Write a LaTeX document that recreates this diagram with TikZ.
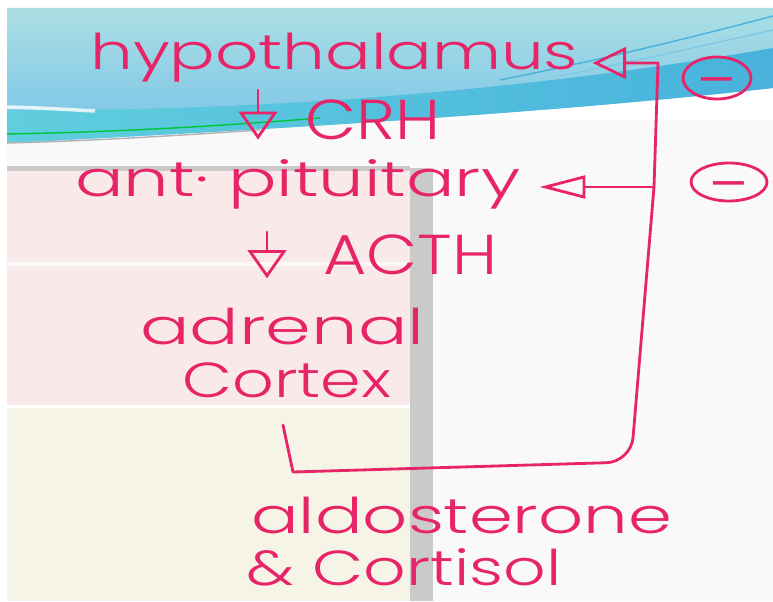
\documentclass[tikz,border=0pt]{standalone}
\usepackage{fontspec}
\IfFontExistsTF{Poppins Light}{\setmainfont{Poppins Light}}{\setmainfont{Poppins}}
\usepackage{tikz}
\usetikzlibrary{arrows.meta,shapes.geometric}

\definecolor{hand}{RGB}{232,36,104}
\definecolor{bandtop}{RGB}{172,223,228}
\definecolor{bandblue}{RGB}{118,194,232}
\definecolor{bandcyan}{RGB}{96,206,222}
\definecolor{banddeep}{RGB}{72,178,220}
\definecolor{paper}{RGB}{249,249,249}
\definecolor{panelpink}{RGB}{250,233,233}
\definecolor{panelline}{RGB}{205,200,200}
\definecolor{panelcream}{RGB}{246,244,231}
\definecolor{slidebar}{RGB}{202,202,202}

\newcommand\handw[2]{\resizebox{#1}{\height}{#2}}

\tikzset{
  pen/.style={draw=hand, line width=1.6pt, line cap=round, line join=round},
  organ/.style={text=hand, inner sep=0pt, anchor=base west, font=\fontsize{28}{28}\selectfont},
  hormone/.style={text=hand, inner sep=0pt, anchor=base west, font=\fontsize{32}{32}\selectfont},
  downarr/.style={pen, -{Triangle[open, length=16pt, width=22pt]}},
  inhib/.style={ellipse, pen, text=hand, inner sep=0pt, font=\fontsize{34}{34}\selectfont}
}

\begin{document}
\begin{tikzpicture}[x=0.02cm, y=-0.02cm]
  \useasboundingbox (0,0) rectangle (773,601);
  % slide behind the notes
  \fill[white] (0,0) rectangle (773,601);
  \fill[paper] (7,120) rectangle (773,601);
  \fill[panelpink] (7,168) rectangle (410,405);
  \fill[panelline] (7,166) rectangle (410,171);
  \fill[white, opacity=.7] (7,262) rectangle (410,266);
  \fill[white] (7,405) rectangle (410,408);
  \fill[panelcream] (7,408) rectangle (410,601);
  \fill[slidebar] (410,168) rectangle (433,601);
  \shade[top color=bandtop, bottom color=bandblue] (7,8) -- (773,8) -- (773,88) .. controls (560,112) and (300,128) .. (7,143) -- cycle;
  \shade[left color=bandcyan, right color=banddeep] (7,110) .. controls (250,112) and (520,92) .. (773,48) -- (773,88) .. controls (560,112) and (300,128) .. (7,143) -- cycle;
  \draw[white, line width=2pt, opacity=.8] (7,107) .. controls (40,108) .. (95,111);
  \draw[green!55!teal, line width=.8pt] (7,134) .. controls (120,132) and (220,126) .. (320,118);
  \draw[gray!60, line width=.8pt] (7,143) .. controls (90,141) and (170,136) .. (260,130);
  \draw[banddeep, line width=.8pt] (500,80) .. controls (600,60) and (690,38) .. (773,16);
  \draw[banddeep!70, line width=.8pt] (560,76) .. controls (650,58) and (710,44) .. (773,30);

  % notes
  \node[organ] (hypo) at (90,70) {\handw{9.76cm}{hypothalamus}};
  \node[hormone] (crh) at (305,140) {\handw{2.7cm}{CRH}};
  \node[organ] (pit) at (75,196) {\handw{8.9cm}{ant· pituitary}};
  \node[hormone] (acth) at (323,274) {\handw{3.48cm}{ACTH}};
  \node[organ] (adrenal) at (140,344) {\handw{5.68cm}{adrenal}};
  \node[organ] (cortex) at (182,397) {\handw{4.18cm}{Cortex}};
  \node[organ] (aldo) at (251,533) {\handw{8.42cm}{aldosterone}};
  \node[organ] (cortisol) at (246,585) {\handw{6.3cm}{\& Cortisol}};
  \node[inhib, minimum width=1.36cm, minimum height=0.84cm] (minus1) at (717,78) {\raisebox{-0.4em}[0pt][0pt]{–}};
  \node[inhib, minimum width=1.52cm, minimum height=0.76cm] (minus2) at (729,182) {\raisebox{-0.4em}[0pt][0pt]{–}};

  \coordinate (crhx) at ([xshift=-0.94cm]crh.west);
  \coordinate (acthx) at ([xshift=-1.12cm]acth.west);
  \draw[downarr, shorten <=0.14cm, shorten >=0.38cm] (crhx |- hypo.south) -- (crhx |- pit.north);
  \draw[downarr, shorten <=0.46cm, shorten >=0.58cm] (acthx |- pit.south) -- (acthx |- adrenal.north);

  \coordinate (fbstart) at (283,425);
  \coordinate (fbleft) at (293,472);
  \coordinate (fbright) at (631,462);
  \coordinate (fbmid) at (654,187);
  \coordinate (fbtop) at (658,63);
  \draw[pen, -{Triangle[open, length=19pt, width=18pt]}, shorten >=0.28cm] (fbstart) -- (fbleft) [rounded corners=14pt] -- (fbright) [sharp corners] -- (fbmid) -- (fbtop) -- (hypo.east |- fbtop);
  \draw[pen, -{Triangle[open, length=26pt, width=13pt]}, shorten >=0.38cm] (fbmid) -- (pit.east |- fbmid);
\end{tikzpicture}
\end{document}
